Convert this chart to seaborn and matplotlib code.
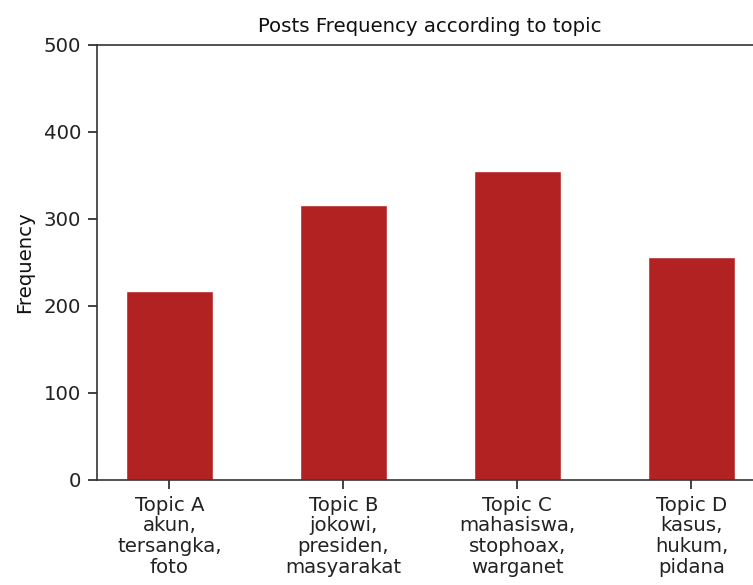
import matplotlib
matplotlib.use("Agg")
import matplotlib.pyplot as plt
import seaborn as sns
import pandas as pd

topics = ["Topic A\nakun,\ntersangka,\nfoto",
          "Topic B\njokowi,\npresiden,\nmasyarakat",
          "Topic C\nmahasiswa,\nstophoax,\nwarganet",
          "Topic D\nkasus,\nhukum,\npidana"]
frequency = [217, 316, 355, 256]
yticks = [0, 100, 200, 300, 400, 500]

sns.set_style("ticks")
plt.rcParams['font.family'] = ['DejaVu Sans']
plt.rcParams['text.color'] = '#111111'
plt.rcParams['axes.labelcolor'] = '#111111'
plt.rcParams['xtick.color'] = '#222222'
plt.rcParams['ytick.color'] = '#222222'
plt.rcParams['axes.edgecolor'] = '#333333'

df = pd.DataFrame({"topic": topics, "freq": frequency})

fs = 14.2
fig = plt.figure(figsize=(7.53, 5.85), dpi=100)
ax = fig.add_axes([0.1284, 0.1795, 0.885, 0.7436])
sns.barplot(data=df, x="topic", y="freq", color="#b22222", saturation=1,
            width=0.5, ax=ax)
ax.set_xlim(-0.417, 3.412)
ax.set_ylim(0, 500)
ax.set_yticks(yticks)
ax.set_xlabel("")
ax.set_ylabel("Frequency", fontsize=fs, labelpad=7)
ax.set_title("Posts Frequency according to topic", fontsize=fs, pad=9)
ax.tick_params(axis='both', labelsize=fs, length=6.2, width=1.2, pad=5)
for s in ax.spines.values():
    s.set_linewidth(1.2)
for lbl in ax.get_xticklabels():
    lbl.set_linespacing(1.12)
fig.savefig("out.png", dpi=100)
